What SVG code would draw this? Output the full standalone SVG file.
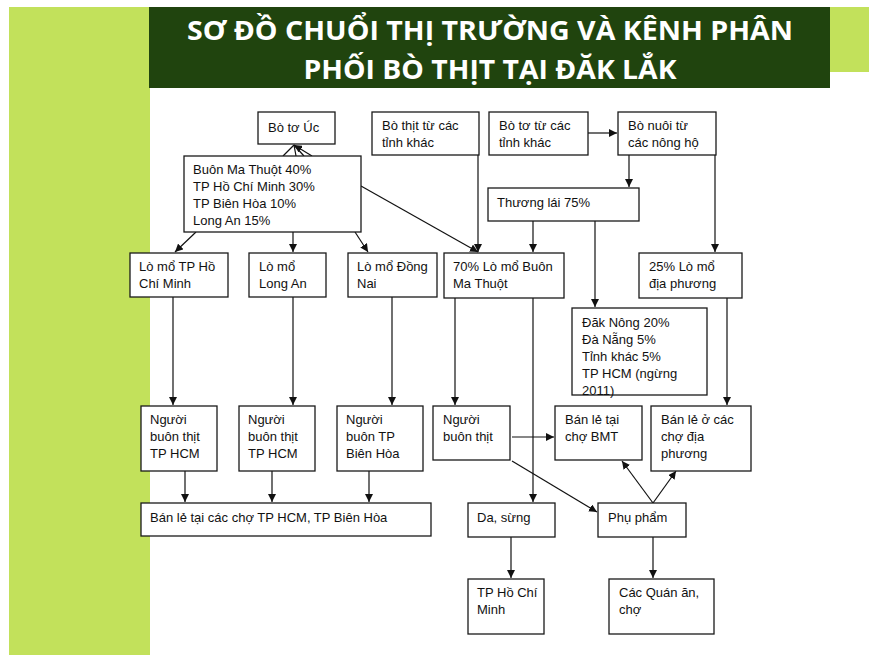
<svg xmlns="http://www.w3.org/2000/svg" width="869" height="655" viewBox="0 0 869 655">
<style>
.bx{fill:#fff;stroke:#1a1a1a;stroke-width:1.3}
.t{font-family:"Liberation Sans",Arial,sans-serif;font-size:13px;fill:#111}
.ttl{font-family:"Open Sans","DejaVu Sans",sans-serif;font-weight:bold;font-size:27px;fill:#fff}
.c{fill:none;stroke:#111;stroke-width:1.2}
</style>
<defs>
<marker id="ah" markerUnits="userSpaceOnUse" markerWidth="9" markerHeight="8" refX="8" refY="4" orient="auto">
<path d="M0,0 L8,4 L0,8 Z" fill="#111"/>
</marker>
</defs>
<rect width="869" height="655" fill="#fff"/>
<g id="background">
<rect x="9" y="7" width="141" height="648" fill="#c2e15b"/>
<rect x="830" y="7" width="39" height="65" fill="#c2e15b"/>
<rect x="149" y="7" width="681" height="81" fill="#20440e"/>
<text class="ttl" x="490" y="40" text-anchor="middle" textLength="606" lengthAdjust="spacingAndGlyphs">SƠ ĐỒ CHUỔI THỊ TRƯỜNG VÀ KÊNH PHÂN</text>
<text class="ttl" x="490" y="79" text-anchor="middle" textLength="373" lengthAdjust="spacingAndGlyphs">PHỐI BÒ THỊT TẠI ĐĂK LẮK</text>
</g>
<g id="connectors">
<line class="c" x1="588" y1="133" x2="617" y2="133" marker-end="url(#ah)"/>
<line class="c" x1="629" y1="155" x2="629" y2="187" marker-end="url(#ah)"/>
<line class="c" x1="715" y1="155" x2="715" y2="252" marker-end="url(#ah)"/>
<line class="c" x1="533" y1="221" x2="533" y2="252" marker-end="url(#ah)"/>
<line class="c" x1="595" y1="221" x2="595" y2="307" marker-end="url(#ah)"/>
<line class="c" x1="478" y1="155" x2="478" y2="252" marker-end="url(#ah)"/>
<line class="c" x1="361" y1="186" x2="478" y2="252" marker-end="url(#ah)"/>
<line class="c" x1="283" y1="156" x2="294" y2="145"/>
<line class="c" x1="296" y1="156" x2="294" y2="145"/>
<line class="c" x1="304" y1="156" x2="294" y2="145"/>
<line class="c" x1="312" y1="156" x2="294" y2="145" marker-end="url(#ah)"/>
<line class="c" x1="196" y1="232" x2="175" y2="252" marker-end="url(#ah)"/>
<line class="c" x1="293" y1="232" x2="293" y2="252" marker-end="url(#ah)"/>
<line class="c" x1="355" y1="232" x2="368" y2="252" marker-end="url(#ah)"/>
<line class="c" x1="173" y1="297" x2="173" y2="405" marker-end="url(#ah)"/>
<line class="c" x1="293" y1="297" x2="293" y2="405" marker-end="url(#ah)"/>
<line class="c" x1="392" y1="297" x2="392" y2="405" marker-end="url(#ah)"/>
<line class="c" x1="455" y1="298" x2="455" y2="405" marker-end="url(#ah)"/>
<line class="c" x1="533" y1="298" x2="533" y2="502" marker-end="url(#ah)"/>
<line class="c" x1="727" y1="298" x2="727" y2="405" marker-end="url(#ah)"/>
<line class="c" x1="512" y1="437" x2="554" y2="437" marker-end="url(#ah)"/>
<line class="c" x1="512" y1="461" x2="597" y2="512" marker-end="url(#ah)"/>
<line class="c" x1="653" y1="503" x2="622" y2="461" marker-end="url(#ah)"/>
<line class="c" x1="653" y1="503" x2="676" y2="471" marker-end="url(#ah)"/>
<line class="c" x1="185" y1="471" x2="185" y2="502" marker-end="url(#ah)"/>
<line class="c" x1="272" y1="471" x2="272" y2="502" marker-end="url(#ah)"/>
<line class="c" x1="369" y1="471" x2="369" y2="502" marker-end="url(#ah)"/>
<line class="c" x1="511" y1="537" x2="511" y2="578" marker-end="url(#ah)"/>
<line class="c" x1="653" y1="537" x2="653" y2="578" marker-end="url(#ah)"/>
</g>
<g id="n-botouc"><rect class="bx" x="258" y="112" width="77" height="32"/><text class="t" x="268" y="132">Bò tơ Úc</text></g>
<g id="n-phanbo"><rect class="bx" x="184" y="156" width="177" height="76"/><text class="t" x="193" y="174">Buôn Ma Thuột 40%</text><text class="t" x="193" y="191">TP Hồ Chí Minh 30%</text><text class="t" x="193" y="208">TP Biên Hòa 10%</text><text class="t" x="193" y="225">Long An 15%</text></g>
<g id="n-bothit"><rect class="bx" x="372" y="112" width="107" height="43"/><text class="t" x="382" y="130">Bò thịt từ các</text><text class="t" x="382" y="147">tỉnh khác</text></g>
<g id="n-boto"><rect class="bx" x="489" y="112" width="99" height="43"/><text class="t" x="499" y="130">Bò tơ từ các</text><text class="t" x="499" y="147">tỉnh khác</text></g>
<g id="n-bonuoi"><rect class="bx" x="618" y="112" width="98" height="43"/><text class="t" x="628" y="130">Bò nuôi từ</text><text class="t" x="628" y="147">các nông hộ</text></g>
<g id="n-thuonglai"><rect class="bx" x="488" y="188" width="151" height="33"/><text class="t" x="497" y="207">Thương lái 75%</text></g>
<g id="n-lomo-hcm"><rect class="bx" x="130" y="253" width="98" height="44"/><text class="t" x="139" y="271">Lò mổ TP Hồ</text><text class="t" x="139" y="288">Chí Minh</text></g>
<g id="n-lomo-la"><rect class="bx" x="249" y="253" width="77" height="44"/><text class="t" x="259" y="271">Lò mổ</text><text class="t" x="259" y="288">Long An</text></g>
<g id="n-lomo-dn"><rect class="bx" x="348" y="253" width="89" height="44"/><text class="t" x="357" y="271">Lò mổ Đồng</text><text class="t" x="357" y="288">Nai</text></g>
<g id="n-lomo-bmt"><rect class="bx" x="444" y="253" width="120" height="45"/><text class="t" x="453" y="271">70% Lò mổ Buôn</text><text class="t" x="453" y="288">Ma Thuột</text></g>
<g id="n-lomo-dp"><rect class="bx" x="639" y="253" width="103" height="45"/><text class="t" x="649" y="271">25% Lò mổ</text><text class="t" x="649" y="288">địa phương</text></g>
<g id="n-tinh"><rect class="bx" x="572" y="308" width="135" height="87"/><text class="t" x="582" y="327">Đăk Nông 20%</text><text class="t" x="582" y="344">Đà Nẵng 5%</text><text class="t" x="582" y="361">Tỉnh khác 5%</text><text class="t" x="582" y="378">TP HCM (ngừng</text><text class="t" x="582" y="395">2011)</text></g>
<g id="n-buon-hcm1"><rect class="bx" x="141" y="406" width="76" height="65"/><text class="t" x="150" y="424">Người</text><text class="t" x="150" y="441">buôn thịt</text><text class="t" x="150" y="458">TP HCM</text></g>
<g id="n-buon-hcm2"><rect class="bx" x="239" y="406" width="76" height="65"/><text class="t" x="248" y="424">Người</text><text class="t" x="248" y="441">buôn thịt</text><text class="t" x="248" y="458">TP HCM</text></g>
<g id="n-buon-bh"><rect class="bx" x="337" y="406" width="86" height="65"/><text class="t" x="346" y="424">Người</text><text class="t" x="346" y="441">buôn TP</text><text class="t" x="346" y="458">Biên Hòa</text></g>
<g id="n-buon-bmt"><rect class="bx" x="433" y="406" width="77" height="54"/><text class="t" x="443" y="424">Người</text><text class="t" x="443" y="441">buôn thịt</text></g>
<g id="n-banle-bmt"><rect class="bx" x="555" y="406" width="87" height="54"/><text class="t" x="565" y="424">Bán lẻ tại</text><text class="t" x="565" y="441">chợ BMT</text></g>
<g id="n-banle-dp"><rect class="bx" x="651" y="406" width="100" height="65"/><text class="t" x="661" y="424">Bán lẻ ở các</text><text class="t" x="661" y="441">chợ địa</text><text class="t" x="661" y="458">phương</text></g>
<g id="n-banle-hcm"><rect class="bx" x="141" y="503" width="290" height="33"/><text class="t" x="150" y="522">Bán lẻ tại các chợ TP HCM, TP Biên Hòa</text></g>
<g id="n-dasung"><rect class="bx" x="468" y="503" width="87" height="34"/><text class="t" x="477" y="522">Da, sừng</text></g>
<g id="n-phupham"><rect class="bx" x="598" y="503" width="88" height="34"/><text class="t" x="608" y="522">Phụ phẩm</text></g>
<g id="n-tphcm"><rect class="bx" x="468" y="579" width="76" height="55"/><text class="t" x="477" y="597">TP Hồ Chí</text><text class="t" x="477" y="614">Minh</text></g>
<g id="n-quanan"><rect class="bx" x="609" y="579" width="105" height="55"/><text class="t" x="619" y="597">Các Quán ăn,</text><text class="t" x="619" y="614">chợ</text></g>
</svg>
